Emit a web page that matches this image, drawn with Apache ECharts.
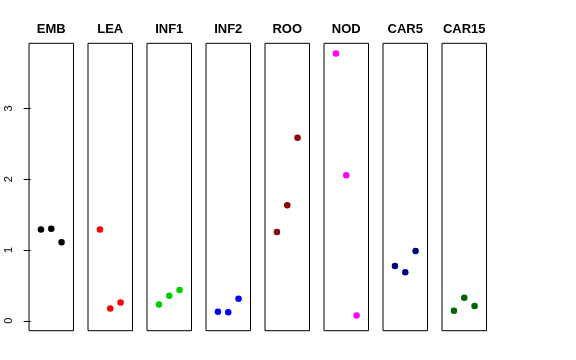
<!DOCTYPE html>
<html>
<head>
<meta charset="utf-8">
<script src="https://cdn.jsdelivr.net/npm/echarts@6/dist/echarts.min.js"></script>
<style>html,body{margin:0;padding:0;background:#fff}#c{width:576px;height:360px}</style>
</head>
<body>
<div id="c"></div>
<script>
const categories = ['EMB', 'LEA', 'INF1', 'INF2', 'ROO', 'NOD', 'CAR5', 'CAR15'];
const xPositions = [1, 2, 3];
const EMB = [1.29, 1.30, 1.11];
const LEA = [1.29, 0.175, 0.26];
const INF1 = [0.23, 0.355, 0.435];
const INF2 = [0.127, 0.12, 0.31];
const ROO = [1.255, 1.632, 2.584];
const NOD = [3.777, 2.057, 0.076];
const CAR5 = [0.774, 0.685, 0.986];
const CAR15 = [0.141, 0.325, 0.208];
const seriesValues = [EMB, LEA, INF1, INF2, ROO, NOD, CAR5, CAR15];
const colors = ['#000000', '#FF0000', '#00CD00', '#0000FF', '#8B0000', '#FF00FF', '#000080', '#006400'];
const yTicks = [0, 1, 2, 3];

const panelLeft0 = 29, panelStep = 59, panelWidth = 44.5, panelTop = 43.3, panelHeight = 287.4;
const yMin = -0.14, yMax = 3.92, xMin = -0.16, xMax = 4.16;

const grids = [], xAxes = [], yAxes = [], series = [], graphics = [];
categories.forEach((name, i) => {
  const left = panelLeft0 + i * panelStep;
  grids.push({left: left, top: panelTop, width: panelWidth, height: panelHeight,
    show: true, borderColor: '#000', borderWidth: 1, backgroundColor: 'transparent', containLabel: false});
  xAxes.push({type: 'value', gridIndex: i, min: xMin, max: xMax, show: false});
  yAxes.push({type: 'value', gridIndex: i, min: yMin, max: yMax,
    show: i === 0,
    splitLine: {show: false},
    axisLine: {show: false},
    axisTick: {show: i === 0, length: 7, inside: false, customValues: yTicks, lineStyle: {color: '#000', width: 1}},
    axisLabel: {show: i === 0, customValues: yTicks, rotate: 90, margin: 15,
      fontFamily: 'Liberation Sans, Arial, sans-serif', fontSize: 11, color: '#000'}
  });
  series.push({type: 'scatter', xAxisIndex: i, yAxisIndex: i, symbol: 'circle', symbolSize: 6.5,
    itemStyle: {color: colors[i], opacity: 1}, silent: true,
    data: xPositions.map((x, k) => [x, seriesValues[i][k]])});
  graphics.push({type: 'text', x: left + panelWidth / 2, y: 29.5,
    style: {text: name, fontFamily: 'Liberation Sans, Arial, sans-serif', fontWeight: 'bold', fontSize: 13,
      fill: '#000', textAlign: 'center', textVerticalAlign: 'middle'}});
});

const chart = echarts.init(document.getElementById('c'), null, {renderer: 'canvas'});
chart.setOption({
  animation: false,
  backgroundColor: '#fff',
  grid: grids,
  xAxis: xAxes,
  yAxis: yAxes,
  series: series,
  graphic: graphics
});
</script>
</body>
</html>
